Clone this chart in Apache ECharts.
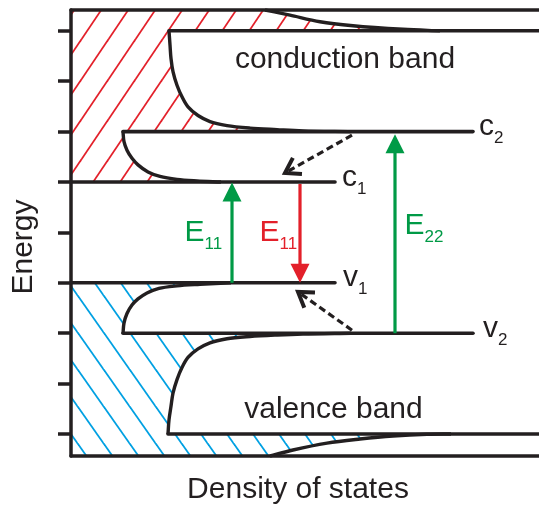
<!DOCTYPE html>
<html><head><meta charset="utf-8">
<script src="https://cdn.jsdelivr.net/npm/echarts@6/dist/echarts.min.js"></script>
<style>html,body{margin:0;padding:0;background:#fff}#c{width:539px;height:506px}</style>
</head><body><div id="c"></div>
<script>
// ---- data (x = density of states, arbitrary units; E = energy, arbitrary units) ----
const energyTicks = [0, 1, 2, 3, 4, 5, 6, 7, 8];
const levelNames  = ['c3', 'c2', 'c1', 'v1', 'v2', 'v3'];
const levelEnergy = [8, 6, 5, 3, 2, 0];
const levelFrom   = [98, 52, 0, 0, 52, 97];
const levelTo     = [468, 402, 264, 264, 402, 468];

// density-of-states curves [x, E]
const topCurve  = [[194, 8.413], [219, 8.31], [249, 8.18], [282, 8.10], [332, 8.03], [369, 8.0]];
const condCurve = [[98, 8.0], [99, 7.72], [100, 7.45], [102, 7.19], [106, 6.92], [111, 6.69], [117, 6.49], [127, 6.32], [139, 6.2], [156, 6.12], [179, 6.07], [206, 6.04], [232, 6.015], [280, 6.0]];
const c2Curve   = [[52, 6.0], [53, 5.8], [56, 5.63], [61, 5.47], [67, 5.34], [77, 5.2], [89, 5.11], [106, 5.05], [126, 5.02], [150, 5.0]];
const v1Curve   = [[160, 3.0], [129, 2.97], [106, 2.94], [88, 2.89], [76, 2.8], [67, 2.68], [61, 2.56], [56, 2.39], [53, 2.2], [52, 2.0]];
const valCurve  = [[280, 2.0], [232, 1.985], [206, 1.965], [179, 1.935], [156, 1.89], [139, 1.81], [127, 1.69], [117, 1.52], [111, 1.32], [106, 1.08], [102, 0.81], [100, 0.55], [98, 0.28], [97, 0.0]];
const botCurve  = [[380, 0.0], [356, -0.006], [322, -0.04], [289, -0.10], [256, -0.18], [222, -0.317], [199, -0.4365]];

// transitions [x1, E1, x2, E2]
const arrowE11up   = [161, 3.0, 161, 4.99];
const arrowE11down = [229, 4.96, 229, 3.0];
const arrowE22up   = [324, 2.0, 324, 5.95];
const relaxC       = [281, 5.93, 214, 5.18];
const relaxV       = [281, 2.06, 227, 2.82];

// labels
const levelLabelMain = ['c', 'c', 'v', 'v'];
const levelLabelSub  = ['2', '1', '1', '2'];
const levelLabelX    = [408, 271, 272, 412];
const levelLabelE    = [6, 5, 3, 2];
const eLabelSub   = ['11', '11', '22'];
const eLabelX     = [113.6, 188.6, 333.6];
const eLabelE     = [4.0, 4.0, 4.14];
const bandNames   = ['conduction band', 'valence band'];
const bandX       = [274, 262.5];
const bandE       = [7.43, 0.48];

const INK = '#231f20', GREEN = '#009a46', RED = '#e3202a', BLUE = '#00a0e2';
const FONT = "'Liberation Sans', Arial, Helvetica, sans-serif";
const E_MIN = -0.4365, E_MAX = 8.413, X_MAX = 468;

function makeHatch(color, w, h, dir, lw) {
  const c = document.createElement('canvas');
  c.width = w; c.height = h;
  const g = c.getContext('2d');
  g.strokeStyle = color; g.lineWidth = lw;
  for (let k = -1; k <= 1; k++) {
    g.beginPath();
    if (dir > 0) { g.moveTo(k * w - w, 2 * h); g.lineTo(k * w + 2 * w, -h); }
    else { g.moveTo(k * w - w, -h); g.lineTo(k * w + 2 * w, 2 * h); }
    g.stroke();
  }
  return c;
}
const redHatch = makeHatch(RED, 27, 40, 1, 1.8);
const blueHatch = makeHatch(BLUE, 26, 37, -1, 1.8);

function crPath(pts) {
  let s = '';
  for (let i = 0; i < pts.length - 1; i++) {
    const p1 = pts[i], p2 = pts[i + 1];
    const p0 = i > 0 ? pts[i - 1] : [2 * p1[0] - p2[0], 2 * p1[1] - p2[1]];
    const p3 = i < pts.length - 2 ? pts[i + 2] : [2 * p2[0] - p1[0], 2 * p2[1] - p1[1]];
    const d1 = Math.sqrt(Math.hypot(p1[0] - p0[0], p1[1] - p0[1]));
    const d2 = Math.sqrt(Math.hypot(p2[0] - p1[0], p2[1] - p1[1]));
    const d3 = Math.sqrt(Math.hypot(p3[0] - p2[0], p3[1] - p2[1]));
    let b1, b2;
    if (d1 < 1e-6) b1 = p1; else b1 = [0, 1].map(k => (d1 * d1 * p2[k] - d2 * d2 * p0[k] + (2 * d1 * d1 + 3 * d1 * d2 + d2 * d2) * p1[k]) / (3 * d1 * (d1 + d2)));
    if (d3 < 1e-6) b2 = p2; else b2 = [0, 1].map(k => (d3 * d3 * p1[k] - d2 * d2 * p3[k] + (2 * d3 * d3 + 3 * d3 * d2 + d2 * d2) * p2[k]) / (3 * d3 * (d3 + d2)));
    s += ' C' + b1[0] + ',' + b1[1] + ' ' + b2[0] + ',' + b2[1] + ' ' + p2[0] + ',' + p2[1];
  }
  return s;
}

function renderItem(params, api) {
  const P = (x, E) => api.coord([x, E]);
  const PP = arr => arr.map(p => P(p[0], p[1]));
  const M = p => 'M' + p[0] + ',' + p[1];
  const L = p => ' L' + p[0] + ',' + p[1];
  const kids = [];

  // filled (hatched) states
  const tc = PP(topCurve), cc = PP(condCurve), c2 = PP(c2Curve);
  const red = M(P(0, E_MAX)) + L(tc[0]) + crPath(tc) + L(cc[0]) + crPath(cc) + L(c2[0]) + crPath(c2) + L(P(0, 5)) + ' Z';
  kids.push({ type: 'path', shape: { pathData: red }, style: { fill: { image: redHatch, repeat: 'repeat' }, stroke: null } });
  const v1 = PP(v1Curve), vc = PP(valCurve), bc = PP(botCurve);
  const blue = M(P(0, 3)) + L(v1[0]) + crPath(v1) + L(vc[0]) + crPath(vc) + L(bc[0]) + crPath(bc) + L(P(0, E_MIN)) + ' Z';
  kids.push({ type: 'path', shape: { pathData: blue }, style: { fill: { image: blueHatch, repeat: 'repeat' }, stroke: null } });

  // DOS curves
  [tc, cc, c2, v1, vc, bc].forEach(c => {
    kids.push({ type: 'path', shape: { pathData: M(c[0]) + crPath(c) }, style: { fill: null, stroke: INK, lineWidth: 3.4, lineJoin: 'round' } });
  });
  // sub-band edges
  for (let i = 0; i < levelEnergy.length; i++) {
    const a = P(levelFrom[i], levelEnergy[i]), b = P(levelTo[i], levelEnergy[i]);
    kids.push({ type: 'line', shape: { x1: a[0], y1: a[1], x2: b[0], y2: b[1] }, style: { stroke: INK, lineWidth: 3.6, lineCap: 'round' } });
  }

  // solid arrows
  function solidArrow(ar, color) {
    const a = P(ar[0], ar[1]), b = P(ar[2], ar[3]);
    const dx = b[0] - a[0], dy = b[1] - a[1], len = Math.hypot(dx, dy);
    const ux = dx / len, uy = dy / len, hl = 19, hw = 9.5;
    const base = [b[0] - ux * hl, b[1] - uy * hl];
    kids.push({ type: 'line', shape: { x1: a[0], y1: a[1], x2: base[0] + ux * 2, y2: base[1] + uy * 2 }, style: { stroke: color, lineWidth: 3.2 } });
    kids.push({ type: 'polygon', shape: { points: [b, [base[0] - uy * hw, base[1] + ux * hw], [base[0] + uy * hw, base[1] - ux * hw]] }, style: { fill: color } });
  }
  solidArrow(arrowE11up, GREEN);
  solidArrow(arrowE11down, RED);
  solidArrow(arrowE22up, GREEN);

  function dashedArrow(ar) {
    const a = P(ar[0], ar[1]), b = P(ar[2], ar[3]);
    const dx = b[0] - a[0], dy = b[1] - a[1], len = Math.hypot(dx, dy);
    const ux = dx / len, uy = dy / len;
    kids.push({ type: 'line', shape: { x1: a[0], y1: a[1], x2: b[0] - ux * 3, y2: b[1] - uy * 3 }, style: { stroke: INK, lineWidth: 3.2, lineDash: [7, 4] } });
    const ang = 33 * Math.PI / 180, al = 17;
    const bx = -ux, by = -uy;
    const r1 = [bx * Math.cos(ang) - by * Math.sin(ang), bx * Math.sin(ang) + by * Math.cos(ang)];
    const r2 = [bx * Math.cos(-ang) - by * Math.sin(-ang), bx * Math.sin(-ang) + by * Math.cos(-ang)];
    kids.push({ type: 'polyline', shape: { points: [[b[0] + r1[0] * al, b[1] + r1[1] * al], b, [b[0] + r2[0] * al, b[1] + r2[1] * al]] }, style: { stroke: INK, lineWidth: 4, fill: null, lineJoin: 'miter' } });
  }
  dashedArrow(relaxC);
  dashedArrow(relaxV);

  // level labels
  for (let i = 0; i < levelLabelMain.length; i++) {
    const p = P(levelLabelX[i], levelLabelE[i]);
    kids.push({ type: 'text', x: p[0], y: p[1] - 4.6, style: { text: levelLabelMain[i], fill: INK, font: '30px ' + FONT, align: 'left', verticalAlign: 'middle' } });
    kids.push({ type: 'text', x: p[0] + 15, y: p[1] + 7, style: { text: levelLabelSub[i], fill: INK, font: '17px ' + FONT, align: 'left', verticalAlign: 'middle' } });
  }
  // transition labels
  const eCol = [GREEN, RED, GREEN];
  for (let i = 0; i < eLabelSub.length; i++) {
    const p = P(eLabelX[i], eLabelE[i]);
    kids.push({ type: 'text', x: p[0], y: p[1], style: { text: 'E', fill: eCol[i], font: '30px ' + FONT, align: 'left', verticalAlign: 'middle' } });
    kids.push({ type: 'text', x: p[0] + 20, y: p[1] + 11.5, style: { text: eLabelSub[i], fill: eCol[i], font: '17px ' + FONT, align: 'left', verticalAlign: 'middle' } });
  }
  // band names
  for (let i = 0; i < bandNames.length; i++) {
    const p = P(bandX[i], bandE[i]);
    kids.push({ type: 'text', x: p[0], y: p[1], style: { text: bandNames[i], fill: INK, font: '30px ' + FONT, align: 'center', verticalAlign: 'middle' } });
  }
  return { type: 'group', children: kids };
}

const axisLineStyle = { color: INK, width: 3.5 };
const option = {
  animation: false,
  backgroundColor: '#ffffff',
  grid: { left: 71, right: 0, top: 10, bottom: 50, containLabel: false, outerBoundsMode: 'none' },
  xAxis: [
    { type: 'value', min: 0, max: X_MAX, position: 'bottom', z: 10,
      axisLine: { show: true, onZero: false, lineStyle: axisLineStyle },
      axisTick: { show: false }, axisLabel: { show: false }, splitLine: { show: false },
      name: 'Density of states', nameLocation: 'middle', nameGap: 19,
      nameTextStyle: { fontSize: 30, color: INK, fontFamily: FONT, padding: [0, 14, 0, 0] } },
    { type: 'value', min: 0, max: X_MAX, position: 'top', z: 10,
      axisLine: { show: true, onZero: false, lineStyle: axisLineStyle },
      axisTick: { show: false }, axisLabel: { show: false }, splitLine: { show: false } }
  ],
  yAxis: {
    type: 'value', min: E_MIN, max: E_MAX, z: 10,
    axisLine: { show: true, onZero: false, lineStyle: axisLineStyle },
    axisTick: { show: true, customValues: energyTicks, length: 13, lineStyle: { color: INK, width: 3.5 } },
    axisLabel: { show: false }, splitLine: { show: false },
    name: 'Energy', nameLocation: 'middle', nameGap: 32, nameRotate: 90,
    nameTextStyle: { fontSize: 30, color: INK, fontFamily: FONT, padding: [0, 28, 0, 0] }
  },
  series: [{
    type: 'custom', coordinateSystem: 'cartesian2d', xAxisIndex: 0, yAxisIndex: 0,
    data: [[0, 0]], renderItem: renderItem, clip: false, silent: true, z: 2
  }]
};
const chart = echarts.init(document.getElementById('c'), null, { renderer: 'canvas' });
chart.setOption(option);
</script></body></html>
